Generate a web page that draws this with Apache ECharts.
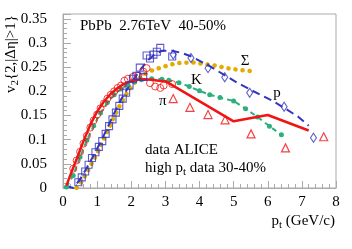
<!DOCTYPE html>
<html><head><meta charset="utf-8">
<script src="https://cdn.jsdelivr.net/npm/echarts@6/dist/echarts.min.js"></script>
<style>html,body{margin:0;padding:0;background:#fff}#c{width:352px;height:249px}</style>
</head><body><div id="c"></div>
<script>
// ---- data ----
const xRange = [0, 8];
const yRange = [0, 0.36];
const pionModel = [[0.1,0.005],[0.2,0.024],[0.4,0.06],[0.6,0.097],[0.8,0.131],[1.0,0.158],[1.2,0.179],[1.4,0.195],[1.6,0.207],[1.8,0.216],[2.0,0.221],[2.2,0.224],[2.4,0.225],[2.6,0.224],[2.8,0.222],[3.0,0.221],[5.0,0.138],[6.0,0.151],[7.2,0.119]];
const kaonModel = [[0.1,0.002],[0.3,0.026],[0.5,0.064],[0.7,0.099],[0.9,0.129],[1.1,0.155],[1.3,0.177],[1.5,0.193],[1.7,0.205],[1.9,0.214],[2.1,0.22],[2.3,0.224],[2.6,0.226],[2.9,0.225],[3.1,0.223],[3.4,0.218],[3.7,0.21],[4.0,0.201],[4.3,0.193],[4.6,0.187],[5.0,0.18],[5.35,0.164],[5.7,0.147],[6.05,0.128],[6.4,0.11]];
const sigmaModel = [[0.4,0.0],[0.55,0.014],[0.7,0.032],[0.85,0.052],[1.0,0.072],[1.15,0.094],[1.3,0.117],[1.45,0.14],[1.6,0.162],[1.75,0.182],[1.9,0.199],[2.05,0.214],[2.2,0.226],[2.4,0.236],[2.6,0.243],[2.9,0.25],[3.3,0.258],[3.8,0.26],[4.4,0.254],[4.8,0.248],[5.2,0.244],[5.5,0.242]];
const protonModel = [[0.1,0.004],[0.3,0.0],[0.5,0.018],[0.7,0.042],[0.9,0.068],[1.1,0.095],[1.3,0.124],[1.5,0.155],[1.7,0.183],[1.9,0.207],[2.1,0.228],[2.3,0.248],[2.5,0.265],[2.7,0.277],[2.9,0.284],[3.2,0.284],[3.5,0.279],[3.8,0.271],[4.3,0.252],[4.7,0.235],[5.1,0.218],[5.5,0.203],[6.1,0.182],[6.5,0.165],[6.9,0.147],[7.2,0.129]];
const pionData = [[0.3,0.04],[0.4,0.057],[0.5,0.075],[0.6,0.092],[0.7,0.108],[0.8,0.125],[0.9,0.14],[1.0,0.152],[1.1,0.165],[1.2,0.175],[1.3,0.185],[1.4,0.193],[1.5,0.2],[1.6,0.207],[1.7,0.212],[1.8,0.222],[1.9,0.226],[2.05,0.23],[2.2,0.232],[2.35,0.241],[2.45,0.248],[2.55,0.217],[2.7,0.21],[2.85,0.207],[2.95,0.212],[3.2,0.215]];
const protonData = [[0.45,0.012],[0.55,0.022],[0.65,0.034],[0.75,0.048],[0.85,0.062],[0.95,0.074],[1.05,0.085],[1.15,0.097],[1.25,0.112],[1.35,0.128],[1.45,0.142],[1.55,0.156],[1.65,0.17],[1.75,0.185],[1.85,0.197],[1.95,0.212],[2.05,0.226],[2.15,0.232],[2.25,0.249],[2.35,0.23],[2.45,0.274],[2.55,0.268],[2.65,0.276],[2.75,0.282],[2.85,0.29],[3.2,0.272]];
const chargedHighPt = [[3.23,0.185],[3.72,0.167],[4.25,0.152],[4.75,0.141],[5.51,0.112],[6.52,0.083],[7.64,0.106]];
const protonHighPt = [[3.23,0.276],[3.75,0.269],[4.25,0.248],[4.74,0.229],[5.47,0.197],[6.48,0.168],[7.34,0.104]];
const titleText = 'PbPb  2.76TeV  40-50%';
const note1 = 'data ALICE';
const note2 = 'high p{s|t} data 30-40%';
const speciesLabels = [['Σ',245,61],['K',196.5,80.5],['p',277,93],['π',162.7,101]];

// ---- chart ----
const FONT = '"Liberation Serif", "DejaVu Serif", serif';
const RED = '#f01414', BLUE = '#3434c0', GREEN = '#2fae7e', GOLD = '#e3ad00';
const chart = echarts.init(document.getElementById('c'));
const sub = { s: { fontSize: 11, fontFamily: FONT, verticalAlign: 'bottom', padding: [8, 0, 0, 0], fill: '#000' } };
function txt(text, x, y, align, extra) {
  return Object.assign({ type: 'text', x: x, y: y, z: 100,
    style: { text: text, fill: '#000', font: '15px ' + FONT, fontSize: 15, fontFamily: FONT,
      align: align, textAlign: align, verticalAlign: 'middle', textVerticalAlign: 'middle', rich: sub } }, extra || {});
}
const graphics = [
  txt(titleText, 80, 26, 'left'),
  txt(note1, 145, 150, 'left'),
  txt(note2, 145, 168, 'left'),
  txt('p{s|t} (GeV/c)', 335, 221, 'right'),
  txt('v{s|2}{2,|Δη|>1}', 11, 15, 'right', { rotation: Math.PI / 2 })
];
speciesLabels.forEach(l => graphics.push(txt(l[0], l[1], l[2], 'center')));

chart.setOption({
  animation: false,
  grid: { left: 63, right: 16, top: 14, bottom: 61, show: true, borderColor: '#aaa', borderWidth: 1 },
  xAxis: { type: 'value', min: xRange[0], max: xRange[1], interval: 1,
    axisLine: { show: true, lineStyle: { color: '#aaa' } },
    axisTick: { show: true, inside: true, length: 7, lineStyle: { color: '#aaa' } },
    minorTick: { show: true, splitNumber: 5, length: 4, lineStyle: { color: '#aaa' } },
    splitLine: { show: false },
    axisLabel: { color: '#000', fontFamily: FONT, fontSize: 15, margin: 7 } },
  yAxis: { type: 'value', min: yRange[0], max: yRange[1], interval: 0.05,
    axisLine: { show: true, lineStyle: { color: '#aaa' } },
    axisTick: { show: true, inside: true, length: 8, lineStyle: { color: '#aaa' } },
    minorTick: { show: true, splitNumber: 5, length: 4, lineStyle: { color: '#aaa' } },
    splitLine: { show: false },
    axisLabel: { color: '#000', fontFamily: FONT, fontSize: 15, margin: 16, showMaxLabel: false } },
  graphic: graphics,
  series: [
    { type: 'line', data: sigmaModel, showSymbol: false, z: 2,
      lineStyle: { color: GOLD, width: 4.5, type: [0.1, 7], cap: 'round' } },
    { type: 'line', data: protonModel, showSymbol: false, z: 3,
      lineStyle: { color: BLUE, width: 2, type: [8, 5] } },
    { type: 'line', data: kaonModel, showSymbol: true, symbol: 'circle', symbolSize: 5, z: 3,
      itemStyle: { color: GREEN }, lineStyle: { color: GREEN, width: 2, type: [5, 4] } },
    { type: 'line', data: pionModel, showSymbol: false, z: 4,
      lineStyle: { color: RED, width: 2.5 } },
    { type: 'scatter', data: pionData, symbol: 'circle', symbolSize: 7, z: 5,
      itemStyle: { color: 'transparent', borderColor: RED, borderWidth: 1 } },
    { type: 'scatter', data: protonData, symbol: 'rect', symbolSize: 7, z: 5,
      itemStyle: { color: 'transparent', borderColor: BLUE, borderWidth: 1.1 } },
    { type: 'scatter', data: chargedHighPt, symbol: 'triangle', symbolSize: 8, z: 5,
      itemStyle: { color: 'transparent', borderColor: RED, borderWidth: 1.2 } },
    { type: 'scatter', data: protonHighPt, symbol: 'diamond', symbolSize: [6, 9], z: 5,
      itemStyle: { color: 'transparent', borderColor: BLUE, borderWidth: 1.1 } }
  ]
});
</script>
</body></html>
